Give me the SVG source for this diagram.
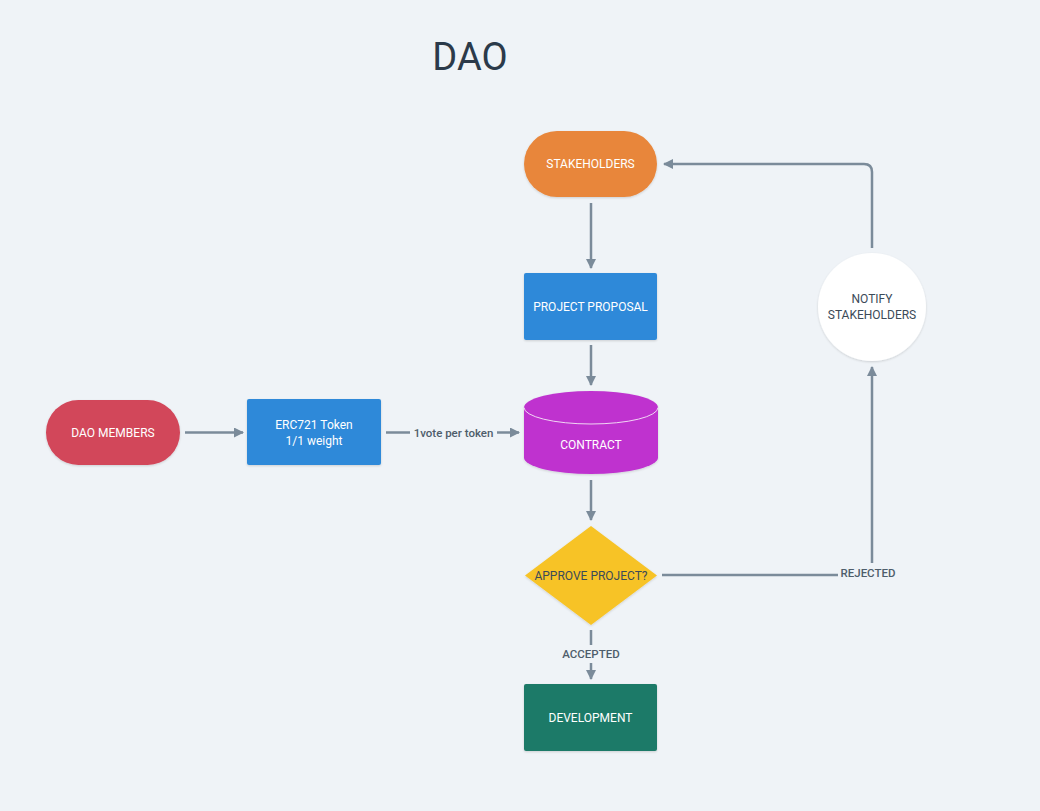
<svg xmlns="http://www.w3.org/2000/svg" width="1040" height="811" viewBox="0 0 1040 811">
<defs>
<style>
.lbl{font-family:Roboto,"Liberation Sans",sans-serif;font-size:12px;fill:#ffffff;text-anchor:middle;dominant-baseline:central}
.dark{fill:#3b4a58}
.edge{fill:none;stroke:#7b8b9a;stroke-width:2.5}
.elbl{font-family:Roboto,"Liberation Sans",sans-serif;font-size:11.5px;font-weight:500;fill:#4e5d6b;text-anchor:middle;dominant-baseline:central}
</style>
<marker id="arr" viewBox="0 0 10 10" refX="9" refY="5" markerWidth="4" markerHeight="4" orient="auto" markerUnits="strokeWidth">
<path d="M0,0 L10,5 L0,10 z" fill="#7b8b9a"/>
</marker>
<filter id="sh" x="-10%" y="-10%" width="120%" height="130%">
<feDropShadow dx="0" dy="1" stdDeviation="1.2" flood-color="#000" flood-opacity="0.15"/>
</filter>
</defs>
<rect width="1040" height="811" fill="#eff3f7"/>
<text x="470" y="70" font-family="Roboto,'Liberation Sans',sans-serif" font-size="38" fill="#2b3a4a" text-anchor="middle">DAO</text>

<g id="connectors">
<line class="edge" x1="591" y1="203" x2="591" y2="268" marker-end="url(#arr)"/>
<line class="edge" x1="591" y1="345" x2="591" y2="385" marker-end="url(#arr)"/>
<line class="edge" x1="185" y1="432.5" x2="243" y2="432.5" marker-end="url(#arr)"/>
<line class="edge" x1="386" y1="432.5" x2="410" y2="432.5"/>
<line class="edge" x1="497" y1="432.5" x2="519" y2="432.5" marker-end="url(#arr)"/>
<text class="elbl" x="453.5" y="432.5">1vote per token</text>
<line class="edge" x1="591" y1="480" x2="591" y2="520" marker-end="url(#arr)"/>
<line class="edge" x1="591" y1="630" x2="591" y2="645"/>
<text class="elbl" x="591" y="654">ACCEPTED</text>
<line class="edge" x1="591" y1="663" x2="591" y2="679" marker-end="url(#arr)"/>
<line class="edge" x1="662" y1="575" x2="838" y2="575"/>
<text class="elbl" x="868" y="573">REJECTED</text>
<line class="edge" x1="872" y1="563" x2="872" y2="367" marker-end="url(#arr)"/>
<path class="edge" d="M872,248 L872,172 Q872,164 864,164 L664,164" marker-end="url(#arr)"/>
</g>

<g id="stakeholders">
<rect x="524" y="131" width="133" height="66" rx="33" fill="#e8863a" filter="url(#sh)"/>
<text class="lbl" x="590.5" y="164">STAKEHOLDERS</text>
</g>
<g id="project-proposal">
<rect x="524" y="273" width="133" height="67" rx="2" fill="#2d89d9" filter="url(#sh)"/>
<text class="lbl" x="590.5" y="306.5">PROJECT PROPOSAL</text>
</g>
<g id="notify-stakeholders">
<circle cx="872" cy="307" r="54" fill="#ffffff" filter="url(#sh)"/>
<text class="lbl dark" x="872" y="299">NOTIFY</text>
<text class="lbl dark" x="872" y="315">STAKEHOLDERS</text>
</g>
<g id="dao-members">
<rect x="46" y="400" width="134" height="65" rx="32.5" fill="#d2465a" filter="url(#sh)"/>
<text class="lbl" x="113" y="432.5">DAO MEMBERS</text>
</g>
<g id="erc721-token">
<rect x="247" y="399" width="134" height="66" rx="2" fill="#2d89d9" filter="url(#sh)"/>
<text class="lbl" x="314" y="424.5">ERC721 Token</text>
<text class="lbl" x="314" y="440.5">1/1 weight</text>
</g>
<g id="contract">
<path d="M524,407.5 L524,457.5 A67,16.5 0 0 0 658,457.5 L658,407.5 A67,16.5 0 0 0 524,407.5 z" fill="#bf33cf" filter="url(#sh)"/>
<path d="M524,407.5 A67,16.5 0 0 0 658,407.5" fill="none" stroke="#f1d6f4" stroke-width="1"/>
<text class="lbl" x="591" y="445">CONTRACT</text>
</g>
<g id="approve-project">
<polygon points="591,526 657,575.5 591,625 525,575.5" fill="#f7c325" filter="url(#sh)"/>
<text class="lbl dark" x="591" y="575.5">APPROVE PROJECT?</text>
</g>
<g id="development">
<rect x="524" y="684" width="133" height="67" rx="2" fill="#1f7a68" filter="url(#sh)"/>
<text class="lbl" x="590.5" y="717.5">DEVELOPMENT</text>
</g>
</svg>
